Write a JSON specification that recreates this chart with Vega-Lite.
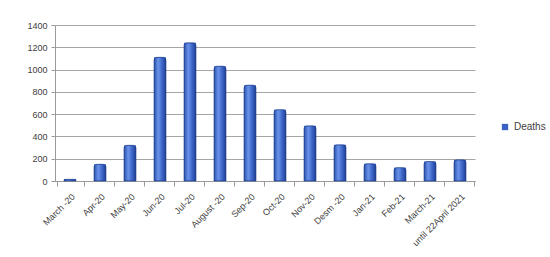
{
  "$schema": "https://vega.github.io/schema/vega-lite/v6.json",
  "autosize": "none",
  "width": 420,
  "height": 156,
  "padding": {"left": 55, "right": 75, "top": 25, "bottom": 76},
  "background": "white",
  "data": {
    "values": [
      {"month": "March -20", "deaths": 15, "series": "Deaths"},
      {"month": "Apr-20", "deaths": 150, "series": "Deaths"},
      {"month": "May-20", "deaths": 320, "series": "Deaths"},
      {"month": "Jun-20", "deaths": 1110, "series": "Deaths"},
      {"month": "Jul-20", "deaths": 1240, "series": "Deaths"},
      {"month": "August -20", "deaths": 1030, "series": "Deaths"},
      {"month": "Sep-20", "deaths": 860, "series": "Deaths"},
      {"month": "Oct-20", "deaths": 640, "series": "Deaths"},
      {"month": "Nov-20", "deaths": 495, "series": "Deaths"},
      {"month": "Desm -20", "deaths": 325, "series": "Deaths"},
      {"month": "Jan-21", "deaths": 155, "series": "Deaths"},
      {"month": "Feb-21", "deaths": 120, "series": "Deaths"},
      {"month": "March-21", "deaths": 175, "series": "Deaths"},
      {"month": "until  22April 2021", "deaths": 190, "series": "Deaths"}
    ]
  },
  "encoding": {
    "x": {
      "field": "month", "type": "nominal", "sort": null, "title": null,
      "axis": {"labelAngle": -45, "labelFontSize": 9, "labelColor": "#404040", "labelFont": "Liberation Sans",
               "domainColor": "#9a9a9a", "tickColor": "#9a9a9a", "tickBand": "extent", "labelPadding": 6}
    },
    "y": {
      "field": "deaths", "type": "quantitative", "title": null,
      "scale": {"domain": [0, 1400], "nice": false},
      "axis": {"values": [0, 200, 400, 600, 800, 1000, 1200, 1400], "format": "d", "labelFontSize": 9, "labelColor": "#404040",
               "labelFont": "Liberation Sans", "gridColor": "#a6a6a6", "gridWidth": 1,
               "domainColor": "#9a9a9a", "tickColor": "#9a9a9a", "tickSize": 4, "labelPadding": 4}
    }
  },
  "layer": [
    {
      "mark": {"type": "bar", "size": 12},
      "encoding": {
        "color": {
          "field": "series", "type": "nominal",
          "scale": {"domain": ["Deaths"], "range": ["#3a62c4"]},
          "legend": {"title": null, "orient": "none", "legendX": 445, "legendY": 97,
                     "symbolType": "square", "symbolSize": 40, "labelFontSize": 10,
                     "labelColor": "#404040", "labelFont": "Liberation Sans"}
        }
      }
    },
    {
      "mark": {
        "type": "bar", "size": 12, "cornerRadiusTopLeft": 3, "cornerRadiusTopRight": 3,
        "stroke": "#1f3f8f", "strokeWidth": 0.6,
        "color": {
          "gradient": "linear", "x1": 0, "x2": 1, "y1": 0, "y2": 0,
          "stops": [
            {"offset": 0, "color": "#2a4fa8"},
            {"offset": 0.35, "color": "#6a93ea"},
            {"offset": 0.7, "color": "#3a62c4"},
            {"offset": 1, "color": "#213f92"}
          ]
        }
      }
    }
  ],
  "config": {"view": {"stroke": null}}
}
